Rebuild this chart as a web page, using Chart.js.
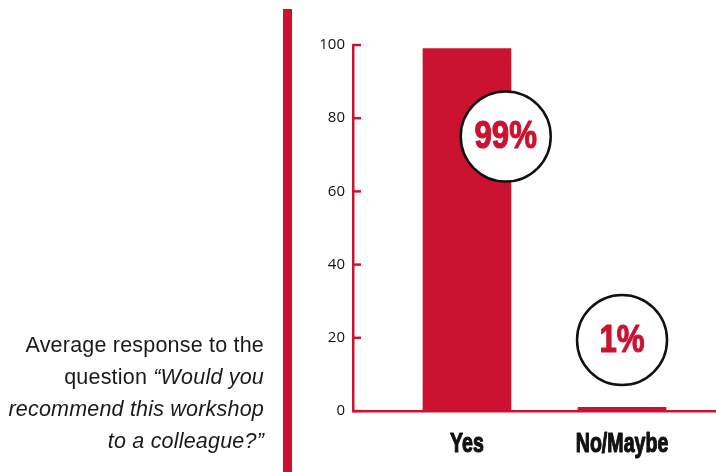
<!DOCTYPE html>
<html>
<head>
<meta charset="utf-8">
<script src="https://cdn.jsdelivr.net/npm/chart.js@4"></script>
<style>
  html, body { margin: 0; padding: 0; background: #fff; }
  #wrap { position: relative; width: 716px; height: 472px; overflow: hidden; }
  #chart { position: absolute; left: 0; top: 0; }
  #rule { position: absolute; left: 283px; top: 9px; width: 9px; height: 470px; background: #cc1231; }
  #note {
    position: absolute; right: 452px; top: 329px; width: 320px;
    text-align: right; font-family: "Liberation Sans", Arial, sans-serif;
    font-size: 21.5px; letter-spacing: 0.2px; line-height: 32px; color: #1a1a1a;
  }
  #note i { font-style: italic; }
</style>
</head>
<body>
<div id="wrap">
  <canvas id="chart" width="716" height="472"></canvas>
  <div id="rule"></div>
  <div id="note">Average response to the<br>question <i>“Would you<br>recommend this workshop<br>to a colleague?”</i></div>
</div>
<script>
const categories = ["Yes", "No/Maybe"];
const percents = [99, 1];
const yTicks = [0, 20, 40, 60, 80, 100];

// where each percentage bubble sits, in axis units (x offset from bar, y value)
const bubbleOffsetX = [0.25, 0.0];
const bubbleY = [75, 19.4];

const red = "#cc1231";
const narrow = '"Liberation Sans", Arial, sans-serif';
const cxt = document.getElementById("chart");

// draw text squeezed horizontally (no condensed cut installed), with a
// thin outline in the same colour to make it look heavier
const squeezed = (ctx, text, x, y, sx) => {
  ctx.save();
  ctx.translate(x, y);
  ctx.scale(sx, 1);
  ctx.strokeStyle = ctx.fillStyle;
  ctx.lineWidth = 1.2;
  ctx.lineJoin = "round";
  ctx.strokeText(text, 0, 0);
  ctx.fillText(text, 0, 0);
  ctx.restore();
};

const tickMarks = {
  id: "tickMarks",
  afterDraw(chart) {
    const ctx = chart.ctx;
    const { x, y } = chart.scales;
    ctx.save();
    ctx.strokeStyle = red;
    ctx.lineWidth = 2.5;
    yTicks.forEach((v) => {
      const py = y.getPixelForValue(v);
      ctx.beginPath();
      ctx.moveTo(y.right, py);
      ctx.lineTo(y.right + 8, py);
      ctx.stroke();
    });
    // category names under the axis
    ctx.fillStyle = "#111";
    ctx.font = `bold 28px ${narrow}`;
    ctx.textAlign = "center";
    ctx.textBaseline = "alphabetic";
    categories.forEach((c, i) => {
      squeezed(ctx, c, x.getPixelForValue(i), x.top + 41, 0.7);
    });
    ctx.restore();
  },
};

const bubbles = {
  id: "bubbles",
  afterDatasetsDraw(chart) {
    const ctx = chart.ctx;
    const { x, y } = chart.scales;
    ctx.save();
    percents.forEach((p, i) => {
      const cx = x.getPixelForValue(i + bubbleOffsetX[i]);
      const cy = y.getPixelForValue(bubbleY[i]);
      ctx.beginPath();
      ctx.arc(cx, cy, 45, 0, Math.PI * 2);
      ctx.fillStyle = "#fff";
      ctx.fill();
      ctx.lineWidth = 2.5;
      ctx.strokeStyle = "#111";
      ctx.stroke();
      ctx.fillStyle = red;
      ctx.font = `bold 39px ${narrow}`;
      ctx.textAlign = "center";
      ctx.textBaseline = "middle";
      squeezed(ctx, `${p}%`, cx, cy + 1, 0.8);
    });
    ctx.restore();
  },
};

new Chart(cxt, {
  type: "bar",
  data: {
    datasets: [
      {
        data: percents.map((v, i) => ({ x: i, y: v })),
        backgroundColor: red,
        barThickness: 88,
      },
    ],
  },
  options: {
    responsive: false,
    animation: false,
    layout: { padding: { top: 45, left: 0, right: 0, bottom: 0 } },
    plugins: { legend: { display: false }, tooltip: { enabled: false } },
    scales: {
      x: {
        type: "linear",
        offset: false,
        min: -0.735,
        max: 1.606,
        afterBuildTicks: (s) => {
          s.ticks = categories.map((c, i) => ({ value: i }));
        },
        afterFit: (s) => {
          s.height = 61;
        },
        grid: { display: false, drawTicks: false, offset: false },
        border: { display: true, color: red, width: 2.5 },
        ticks: { display: false },
      },
      y: {
        min: 0,
        max: 100,
        afterBuildTicks: (s) => {
          s.ticks = yTicks.map((v) => ({ value: v }));
        },
        afterFit: (s) => {
          s.width = 353;
        },
        grid: { display: false, drawTicks: false },
        border: { display: true, color: red, width: 2.5 },
        ticks: {
          padding: 8,
          color: "#111",
          font: { family: '"Open Sans", sans-serif', size: 15 },
        },
      },
    },
  },
  plugins: [tickMarks, bubbles],
});
</script>
</body>
</html>
